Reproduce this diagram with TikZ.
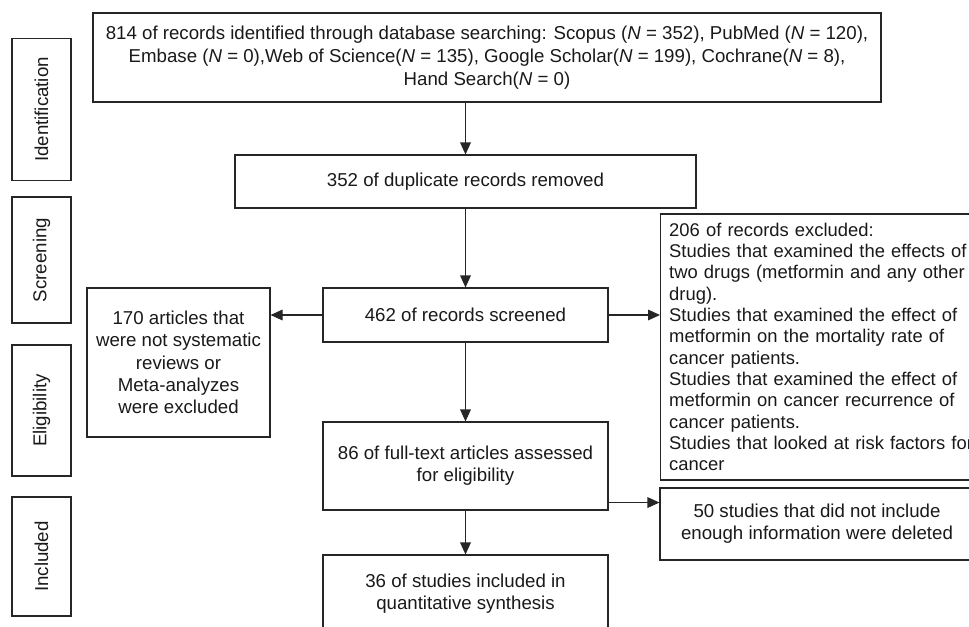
\documentclass[tikz,border=0pt]{standalone}
\usepackage{fontspec}
\setmainfont{Liberation Sans}
\usetikzlibrary{arrows.meta}

\tikzset{
  flowbox/.style={draw=black!85,line width=0.8pt,align=center,inner sep=2pt,
    text=black!90,font=\fontsize{14}{16.7}\selectfont},
  phase/.style={flowbox,rotate=90,minimum height=44.25pt},
  flow/.style={->,line width=0.8pt,draw=black!85},
}

\begin{document}
\begin{tikzpicture}[x=0.75pt,y=-0.75pt,>={Triangle[length=9pt,width=8pt]}]
  \clip (0,0) rectangle (969,626);
  % phases
  \node[phase,minimum width=106.5pt] (ident) at (41.5,109.5) {Identification};
  \node[phase,minimum width=94.5pt] (screen) at (41.5,260) {Screening};
  \node[phase,minimum width=98.25pt] (eligib) at (41.5,410.5) {Eligibility};
  \node[phase,minimum width=89.25pt] (inclu) at (41.5,556.5) {Included};
  % main column
  \node[flowbox,minimum width=591pt,minimum height=66.75pt,font=\fontsize{14}{17.2}\selectfont] (srch) at (487,57.5)
    {814 of records identified through database searching: Scopus (\textit{N} = 352), PubMed (\textit{N} = 120),\\
     Embase (\textit{N} = 0),Web of Science(\textit{N} = 135), Google Scholar(\textit{N} = 199), Cochrane(\textit{N} = 8),\\
     Hand Search(\textit{N} = 0)};
  \node[flowbox,minimum width=345.75pt,minimum height=39.75pt] (rmvd) at (465.5,181.5) {352 of duplicate records removed};
  \node[flowbox,minimum width=213.75pt,minimum height=40.5pt] (scr) at (465.5,315) {462 of records screened};
  \node[flowbox,minimum width=213.75pt,minimum height=66pt] (elig) at (465.5,466) {86 of full-text articles assessed\\for eligibility};
  \node[flowbox,minimum width=213.75pt,minimum height=57.75pt] (incl) at (465.5,593.5) {36 of studies included in\\quantitative synthesis};
  % excluded
  \node[flowbox,minimum width=137.25pt,minimum height=111.75pt] (excl1) at (178.5,362.5)
    {170 articles that\\were not systematic\\reviews or\\Meta-analyzes\\were excluded};
  \node[flowbox,anchor=west,align=left,text width=240pt,inner xsep=6.5pt,minimum height=199.5pt,
    font=\fontsize{13.8}{16}\selectfont] (excl2) at (660,347)
    {206 of records excluded:\\
     Studies that examined the effects of\\
     two drugs (metformin and any other\\
     drug).\\
     Studies that examined the effect of\\
     metformin on the mortality rate of\\
     cancer patients.\\
     Studies that examined the effect of\\
     metformin on cancer recurrence of\\
     cancer patients.\\
     Studies that looked at risk factors for\\
     cancer};
  \node[flowbox,minimum width=235.5pt,minimum height=54pt] (excl3) at (817,524)
    {50 studies that did not include\\enough information were deleted};
  % arrows
  \draw[flow] (srch.south -| rmvd) -- (rmvd);
  \draw[flow] (rmvd) -- (scr);
  \draw[flow] (scr) -- (elig);
  \draw[flow] (elig) -- (incl);
  \draw[flow] (scr.west) -- (scr.west -| excl1.east);
  \draw[flow] (scr.east) -- (scr.east -| excl2.west);
  \draw[flow] ([yshift=6pt]elig.south east) -- ([yshift=6pt]elig.south east -| excl3.west);
\end{tikzpicture}
\end{document}
